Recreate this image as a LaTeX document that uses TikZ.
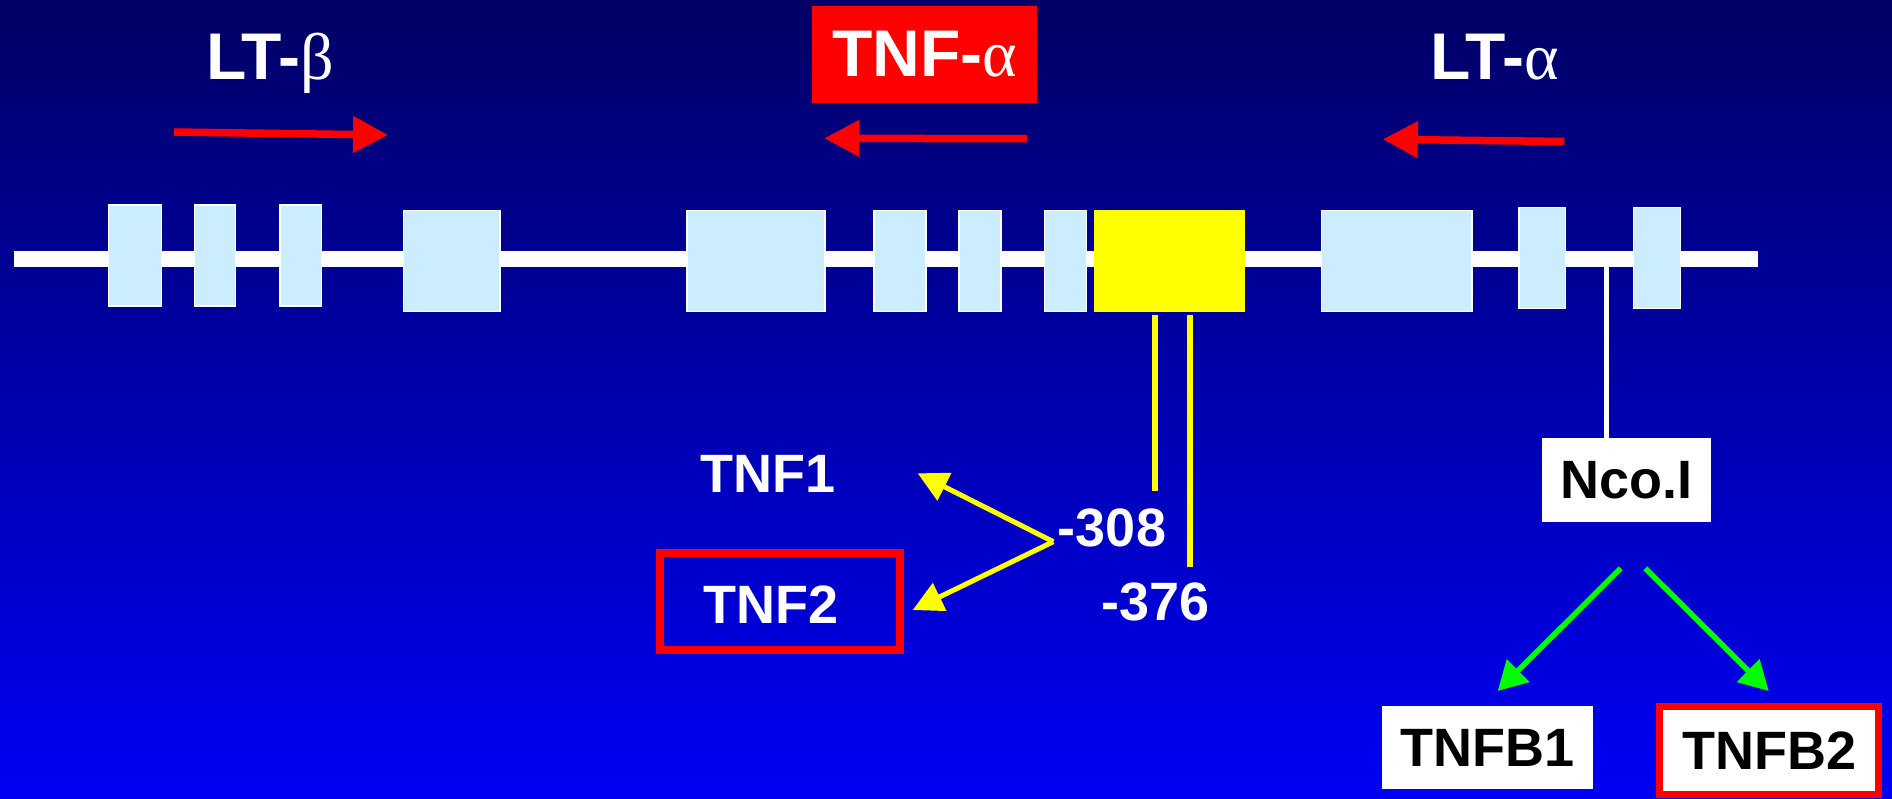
\documentclass[tikz,border=0pt]{standalone}
\usepackage{fontspec}
\setmainfont{Liberation Sans}
\newfontfamily\grk{Liberation Serif}
\usetikzlibrary{arrows.meta}
\definecolor{bgtop}{RGB}{0,0,100}
\definecolor{bgbot}{RGB}{0,0,245}
\definecolor{exon}{RGB}{204,236,255}
\definecolor{redc}{RGB}{255,0,0}
\definecolor{yel}{RGB}{255,255,0}
\definecolor{grn}{RGB}{0,255,0}
\begin{document}
\begin{tikzpicture}[x=1pt,y=-1pt,
  big/.style={font=\fontsize{66}{70}\selectfont\bfseries, text=white, inner sep=0pt, outer sep=0pt},
  small/.style={font=\fontsize{54}{60}\selectfont\bfseries, text=white, inner sep=0pt, outer sep=0pt},
  blackbox/.style={small, text=black, fill=white},
  exonbox/.style={fill=exon, draw=white, line width=1.5pt, inner sep=0pt, outer sep=0pt, minimum height=101},
  promoter/.style={fill=yel, inner sep=0pt, outer sep=0pt},
  redarrow/.style={draw=redc, line width=7.5pt, -{Triangle[length=35pt,width=35pt]}},
  yelarrow/.style={draw=yel, line width=5pt, -{Triangle[length=30pt,width=30pt]}},
  grnarrow/.style={draw=grn, line width=5.5pt, -{Triangle[length=29pt,width=31pt]}},
  yelline/.style={draw=yel, line width=6pt},
  backbone/.style={draw=white, line width=16pt}
]
\useasboundingbox (0,0) rectangle (1892,798);
\shade[top color=bgtop, bottom color=bgbot] (0,0) rectangle (1892,798);

% backbone
\coordinate (bbl) at (14,259);
\coordinate (bbr) at (1758,259);
\draw[backbone] (bbl) -- (bbr);

% Nco.I marker
\node[blackbox, minimum width=169, minimum height=84] (nco) at (1626.5,480) {Nco.I};
\coordinate (ncot) at (1606,265);
\draw[white, line width=5pt] (ncot) -- (ncot |- nco.north);

% exons
\node[exonbox, minimum width=52.6] (e1) at (135,255.5) {};
\node[exonbox, minimum width=41.4] (e2) at (215,255.5) {};
\node[exonbox, minimum width=41.4] (e3) at (300.6,255.5) {};
\node[exonbox, minimum width=96.8] (e4) at (451.8,260.8) {};
\node[exonbox, minimum width=138.2] (e5) at (755.9,260.8) {};
\node[exonbox, minimum width=52] (e6) at (900,260.8) {};
\node[exonbox, minimum width=42] (e7) at (980,260.8) {};
\node[exonbox, minimum width=42.1] (e8) at (1065.5,260.8) {};
\node[promoter, minimum width=150.8, minimum height=101.7] (prom) at (1169.8,260.9) {};
\node[exonbox, minimum width=150.7] (e9) at (1396.8,260.8) {};
\node[exonbox, minimum width=46.6] (e10) at (1542.1,258) {};
\node[exonbox, minimum width=46.6] (e11) at (1657,258) {};

% gene labels
\node[big, anchor=base] (ltb) at (270,79.3) {LT-{\grk\mdseries β}};
\node[big, fill=redc, minimum width=225, minimum height=96.7] (tnfa) at (924.5,54.4) {TNF-{\grk\mdseries α}};
\node[big, anchor=base] (lta) at (1494.8,79) {LT-{\grk\mdseries α}};

% direction arrows
\coordinate (b1) at (174,132);
\coordinate (b2) at (388,135);
\coordinate (t1) at (1027.3,138.7);
\coordinate (t2) at (824.3,138.3);
\coordinate (a1) at (1564.3,141.5);
\coordinate (a2) at (1382.8,139.3);
\draw[redarrow] (b1) -- (b2);
\draw[redarrow] (t1) -- (t2);
\draw[redarrow] (a1) -- (a2);

% promoter polymorphism lines
\coordinate (s1t) at (1154.5,315);
\coordinate (s1b) at (1154.5,490.7);
\coordinate (s2t) at (1190,315);
\coordinate (s2b) at (1190,566.7);
\draw[yelline] (s1t) -- (s1b);
\draw[yelline] (s2t) -- (s2b);

% polymorphism labels
\node[small, anchor=base] (p308) at (1112,546.7) {-308};
\node[small, anchor=base] (p376) at (1155.5,620) {-376};
\node[small, anchor=base] (tnf1) at (768,492) {TNF1};
\node[draw=redc, line width=8pt, minimum width=240.6, minimum height=97, inner sep=0pt] (tnf2box) at (780,601.5) {};
\node[small, anchor=base] (tnf2) at (771,623) {TNF2};

\coordinate (v) at (1053.3,541.7);
\coordinate (y1) at (917.7,473.3);
\coordinate (y2) at (912.7,610);
\draw[yelarrow] (v) -- (y1);
\draw[yelarrow] (v) -- (y2);

% TNFB alleles
\node[blackbox, minimum width=210.7, minimum height=83.3] (tnfb1) at (1487.3,747.7) {TNFB1};
\node[blackbox, draw=redc, line width=7pt, minimum width=219.3, minimum height=88.3] (tnfb2) at (1769.2,750.4) {TNFB2};

\coordinate (g0l) at (1620.7,568.3);
\coordinate (g1) at (1497.7,691);
\coordinate (g0r) at (1645.3,568.3);
\coordinate (g2) at (1768.7,691);
\draw[grnarrow] (g0l) -- (g1);
\draw[grnarrow] (g0r) -- (g2);
\end{tikzpicture}
\end{document}
